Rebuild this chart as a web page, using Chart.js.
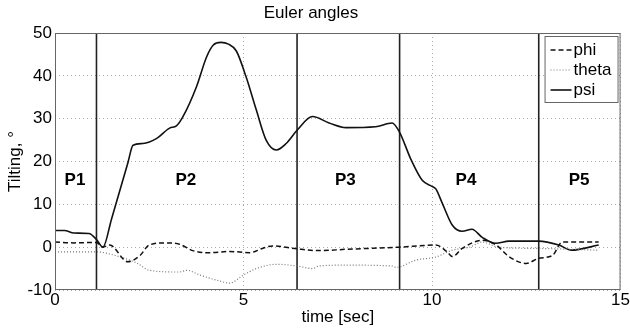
<!DOCTYPE html>
<html>
<head>
<meta charset="utf-8">
<script src="https://cdn.jsdelivr.net/npm/chart.js@4"></script>
<style>
  html, body { margin: 0; padding: 0; background: #fff; }
  #wrap { width: 630px; height: 328px; }
</style>
</head>
<body>
<div id="wrap"><canvas id="eulerChart"></canvas></div>
<script>
// values
const psiTime = [0, 0.25, 0.5, 0.9, 1.1, 1.27, 1.5, 1.93, 2.07, 2.33, 2.7, 3.04, 3.22, 3.39, 3.75, 4.02, 4.2, 4.4, 4.6, 4.81, 5.07, 5.34, 5.6, 5.87, 6.13, 6.42, 6.83, 7.27, 7.72, 8.5, 8.94, 9.13, 9.45, 9.74, 10.0, 10.1, 10.27, 10.54, 10.8, 11.06, 11.33, 11.69, 12.04, 12.83, 13.36, 13.7, 14.42];
const psi     = [3.9, 3.9, 3.3, 3.2, 1.8, 0, 6.6, 19.6, 23.8, 24.2, 25.4, 27.8, 28.3, 30.4, 37.4, 44.4, 47.2, 47.8, 47.4, 45.8, 39.7, 32, 25, 22.7, 24.2, 27.3, 30.5, 29, 27.9, 28.1, 29, 27, 20.3, 15.6, 14.2, 13.6, 10.3, 5.1, 3.7, 4.2, 2.3, 0.9, 1.4, 1.4, 0.5, -0.7, 0.5];

const phiTime = [0, 0.5, 1.1, 1.27, 1.45, 1.93, 2.25, 2.5, 2.96, 3.3, 3.65, 4.1, 4.63, 5.16, 5.5, 5.77, 6.42, 7, 7.72, 9.13, 10.1, 10.4, 10.54, 10.8, 11.33, 11.7, 12.04, 12.5, 12.83, 13.2, 13.45, 14.42];
const phi     = [1.2, 1.0, 1.1, 0, 0.5, -3.4, -2, 0.5, 1.0, 0.7, -0.8, -1.3, -1, -1.3, -0.3, 0.3, -0.4, -0.8, -0.5, 0, 0.5, -1.1, -2.2, -0.3, 1.6, 0.5, -2.2, -3.8, -2.6, -1.9, 1.2, 1.2];

const thetaTime = [0, 1.1, 1.45, 2.17, 2.5, 3.3, 3.5, 3.84, 4.37, 4.63, 5, 5.34, 5.87, 6.42, 6.83, 7, 7.72, 8.94, 9.05, 9.58, 10.1, 10.54, 11, 11.33, 11.76, 12.83, 14.42];
const theta     = [-1.1, -1.1, -1.6, -3.7, -5.4, -5.8, -5.4, -6.5, -7.9, -8.4, -6.5, -5, -4, -4.4, -5, -4.4, -4.2, -4.4, -4.7, -3, -2.3, -0.7, 0, 1.2, 0, -0.3, -0.7];

const phaseBounds = [1.1, 6.42, 9.14, 12.83];
const phaseLabels = ['P1', 'P2', 'P3', 'P4', 'P5'];
const phaseLabelTime = [0.53, 3.47, 7.7, 10.9, 13.9];
const phaseLabelLevel = 15.6;

const xTicks = [0, 5, 10, 15];
const yTicks = [-10, 0, 10, 20, 30, 40, 50];

const FONT = 'Liberation Sans, Arial, sans-serif';

function pairs(xs, ys) {
  return xs.map((x, i) => ({ x: x, y: ys[i] }));
}

const seriesStyle = {
  phi:   { borderColor: '#111', borderWidth: 1.5, borderDash: [5, 3] },
  theta: { borderColor: '#777', borderWidth: 1.2, borderDash: [1, 2] },
  psi:   { borderColor: '#111', borderWidth: 1.6, borderDash: [] }
};

const datasets = [
  Object.assign({ label: 'phi', data: pairs(phiTime, phi) }, seriesStyle.phi),
  Object.assign({ label: 'theta', data: pairs(thetaTime, theta) }, seriesStyle.theta),
  Object.assign({ label: 'psi', data: pairs(psiTime, psi) }, seriesStyle.psi)
];

// phase boundaries as vertical lines spanning the y range
phaseBounds.forEach(b => {
  datasets.push({
    label: 'bound',
    data: [{ x: b, y: yTicks[0] }, { x: b, y: yTicks[yTicks.length - 1] }],
    borderColor: '#222',
    borderWidth: 1.6,
    tension: 0
  });
});

// frame around plot area
const framePlugin = {
  id: 'frame',
  afterDraw(chart) {
    const a = chart.chartArea, ctx = chart.ctx;
    ctx.save();
    ctx.strokeStyle = '#666';
    ctx.lineWidth = 1;
    ctx.strokeRect(a.left + 0.5, a.top + 0.5, a.right - a.left - 1, a.bottom - a.top - 1);
    ctx.restore();
  }
};

// P1..P5 region labels
const phasePlugin = {
  id: 'phaseLabels',
  afterDatasetsDraw(chart) {
    const ctx = chart.ctx, xs = chart.scales.x, ys = chart.scales.y;
    ctx.save();
    ctx.fillStyle = '#000';
    ctx.font = 'bold 17px ' + FONT;
    ctx.textAlign = 'center';
    ctx.textBaseline = 'middle';
    phaseLabels.forEach((txt, i) => {
      ctx.fillText(txt, xs.getPixelForValue(phaseLabelTime[i]), ys.getPixelForValue(phaseLabelLevel));
    });
    ctx.restore();
  }
};

// MATLAB-like boxed legend in the top right corner
const boxLegend = {
  id: 'boxLegend',
  afterDraw(chart) {
    const ctx = chart.ctx, a = chart.chartArea;
    const w = 73, h = 66;
    const left = a.right - 3 - w, top = a.top + 3;
    ctx.save();
    ctx.fillStyle = '#fff';
    ctx.fillRect(left, top, w, h);
    ctx.strokeStyle = '#666';
    ctx.lineWidth = 1;
    ctx.strokeRect(left + 0.5, top + 0.5, w, h);
    ctx.font = '17px ' + FONT;
    ctx.textBaseline = 'middle';
    ctx.textAlign = 'left';
    chart.data.datasets.slice(0, 3).forEach((ds, i) => {
      const y = top + 14 + i * 20;
      ctx.beginPath();
      ctx.setLineDash(ds.borderDash || []);
      ctx.strokeStyle = ds.borderColor;
      ctx.lineWidth = ds.borderWidth;
      ctx.moveTo(left + 6, y);
      ctx.lineTo(left + 27, y);
      ctx.stroke();
      ctx.setLineDash([]);
      ctx.fillStyle = '#000';
      ctx.fillText(ds.label, left + 29, y);
    });
    ctx.restore();
  }
};

Chart.defaults.font.family = FONT;
Chart.defaults.color = '#000';

new Chart(document.getElementById('eulerChart'), {
  type: 'line',
  data: { datasets: datasets },
  options: {
    responsive: true,
    maintainAspectRatio: false,
    animation: false,
    layout: { padding: { left: 0, right: 8, top: 0, bottom: 0 } },
    elements: {
      point: { radius: 0 },
      line: { tension: 0.4, cubicInterpolationMode: 'monotone', fill: false }
    },
    plugins: {
      legend: { display: false },
      tooltip: { enabled: false },
      title: {
        display: true,
        text: 'Euler angles',
        color: '#000',
        font: { size: 17, weight: 'normal', family: FONT },
        padding: { top: 3, bottom: 9.6 }
      }
    },
    scales: {
      x: {
        type: 'linear',
        min: 0,
        max: 15,
        afterBuildTicks: s => { s.ticks = xTicks.map(v => ({ value: v })); },
        afterFit: s => { s.height = 38; },
        ticks: { font: { size: 17 }, padding: 0, maxRotation: 0 },
        grid: { color: '#aaa', drawTicks: false },
        border: { display: false, dash: [1, 3] },
        title: { display: true, text: 'time [sec]', font: { size: 17 }, padding: { top: 0, bottom: 0 } }
      },
      y: {
        min: -10,
        max: 50,
        afterBuildTicks: s => { s.ticks = yTicks.map(v => ({ value: v })); },
        afterFit: s => { s.width = 55; },
        ticks: { font: { size: 17 }, padding: 3 },
        grid: { color: '#aaa', drawTicks: false },
        border: { display: false, dash: [1, 3] },
        title: { display: true, text: 'Tilting, °', font: { size: 17 }, padding: { top: 5, bottom: 0 } }
      }
    }
  },
  plugins: [framePlugin, phasePlugin, boxLegend]
});
</script>
</body>
</html>
